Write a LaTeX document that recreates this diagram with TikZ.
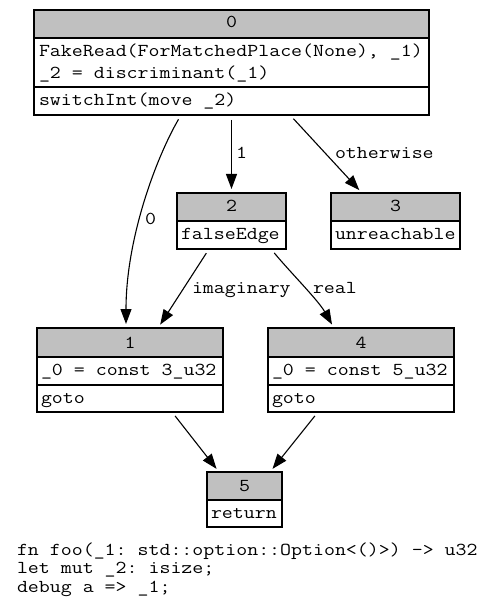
\documentclass[tikz,border=0pt]{standalone}
\usepackage{fontspec}
\setmonofont[FakeStretch=1.17]{Latin Modern Mono}
\usetikzlibrary{arrows.meta}
\definecolor{hdrgray}{RGB}{192,192,192}
\newcommand{\cf}{\ttfamily\fontsize{18.2}{22}\selectfont}
\tikzset{
  rec/.style={inner sep=0pt, outer sep=0pt},
  hdr/.style={fill=hdrgray},
  outline/.style={draw=black, line width=1.1pt},
  sep/.style={draw=black, line width=1.1pt},
  txt/.style={anchor=base west, inner sep=0pt, outer sep=0pt, font=\cf},
  htxt/.style={anchor=base, inner sep=0pt, outer sep=0pt, font=\cf},
  conn/.style={draw=black, line width=1.1pt, -{Triangle[length=15pt,width=11pt]}, shorten <=5pt, shorten >=4pt},
  elabel/.style={anchor=base west, inner sep=0pt, outer sep=0pt, font=\cf}
}
\begin{document}
\begin{tikzpicture}[x=1pt,y=-1pt]
\useasboundingbox (0,0) rectangle (495,609);
% record nodes
\node[rec, minimum width=395pt, minimum height=105pt] (n0) at (231.5,62.5) {};
\node[rec, minimum width=109pt, minimum height=56pt] (n2) at (231.5,221) {};
\node[rec, minimum width=129pt, minimum height=56pt] (n3) at (395.5,221) {};
\node[rec, minimum width=186pt, minimum height=84pt] (n1) at (130,370) {};
\node[rec, minimum width=186pt, minimum height=84pt] (n4) at (361,370) {};
\node[rec, minimum width=75pt, minimum height=55pt] (n5) at (244.5,499.5) {};
% headers
\fill[hdr] (n0.north west) rectangle ([yshift=-28pt]n0.north east);
\fill[hdr] (n2.north west) rectangle ([yshift=-28pt]n2.north east);
\fill[hdr] (n3.north west) rectangle ([yshift=-28pt]n3.north east);
\fill[hdr] (n1.north west) rectangle ([yshift=-29pt]n1.north east);
\fill[hdr] (n4.north west) rectangle ([yshift=-29pt]n4.north east);
\fill[hdr] (n5.north west) rectangle ([yshift=-28pt]n5.north east);
% separators
\draw[sep] ([yshift=-28pt]n0.north west) -- ([yshift=-28pt]n0.north east);
\draw[sep] ([yshift=-77pt]n0.north west) -- ([yshift=-77pt]n0.north east);
\draw[sep] ([yshift=-28pt]n2.north west) -- ([yshift=-28pt]n2.north east);
\draw[sep] ([yshift=-28pt]n3.north west) -- ([yshift=-28pt]n3.north east);
\draw[sep] ([yshift=-29pt]n1.north west) -- ([yshift=-29pt]n1.north east);
\draw[sep] ([yshift=-57pt]n1.north west) -- ([yshift=-57pt]n1.north east);
\draw[sep] ([yshift=-29pt]n4.north west) -- ([yshift=-29pt]n4.north east);
\draw[sep] ([yshift=-57pt]n4.north west) -- ([yshift=-57pt]n4.north east);
\draw[sep] ([yshift=-28pt]n5.north west) -- ([yshift=-28pt]n5.north east);
% outlines
\foreach \n in {n0,n1,n2,n3,n4,n5} \draw[outline] (\n.north west) rectangle (\n.south east);
% texts
\node[htxt] (h0) at (231.5,28) {0};
\node[txt] (r0a) at (39,57) {FakeRead(ForMatchedPlace(None), \_1)};
\node[txt] (r0b) at (39,79) {\_2 = discriminant(\_1)};
\node[txt] (r0c) at (39,106) {switchInt(move \_2)};
\node[htxt] (h2) at (231.5,212) {2};
\node[txt] (r2a) at (181,240) {falseEdge};
\node[htxt] (h3) at (395.5,212) {3};
\node[txt] (r3a) at (335,240) {unreachable};
\node[htxt] (h1) at (130,348) {1};
\node[txt] (r1a) at (41,375) {\_0 = const 3\_u32};
\node[txt] (r1b) at (41,403) {goto};
\node[htxt] (h4) at (361,348) {4};
\node[txt] (r4a) at (272,375) {\_0 = const 5\_u32};
\node[txt] (r4b) at (272,403) {goto};
\node[htxt] (h5) at (244.5,491) {5};
\node[txt] (r5a) at (211,518) {return};
% connectors
\draw[conn] (n0.south) -- (n2.north);
\draw[conn] ([xshift=58.5pt]n0.south) -- ([xshift=-33.5pt]n3.north);
\draw[conn] ([xshift=-50.5pt]n0.south) .. controls (155,160) and (126,240) .. ([xshift=-4pt]n1.north);
\draw[conn] ([xshift=-22.5pt]n2.south) -- ([xshift=28pt]n1.north);
\draw[conn] ([xshift=39.5pt]n2.south) .. controls (290,272) and (318,300) .. ([xshift=-27pt]n4.north);
\draw[conn] ([xshift=42pt]n1.south) -- ([xshift=-25.5pt]n5.north);
\draw[conn] ([xshift=-43pt]n4.south) -- ([xshift=25.5pt]n5.north);
% edge labels
\node[elabel] (l1) at (236,159) {1};
\node[elabel] (lo) at (335,159) {otherwise};
\node[elabel] (l0) at (145,225) {0};
\node[elabel] (li) at (192,293) {imaginary};
\node[elabel] (lr) at (313,293) {real};
% footer text
\node[txt] (t1) at (17,555) {fn foo(\_1: std::option::Option<()>) -> u32};
\node[txt] (t2) at (17,573.5) {let mut \_2: isize;};
\node[txt] (t3) at (17,592) {debug a => \_1;};
\end{tikzpicture}
\end{document}
